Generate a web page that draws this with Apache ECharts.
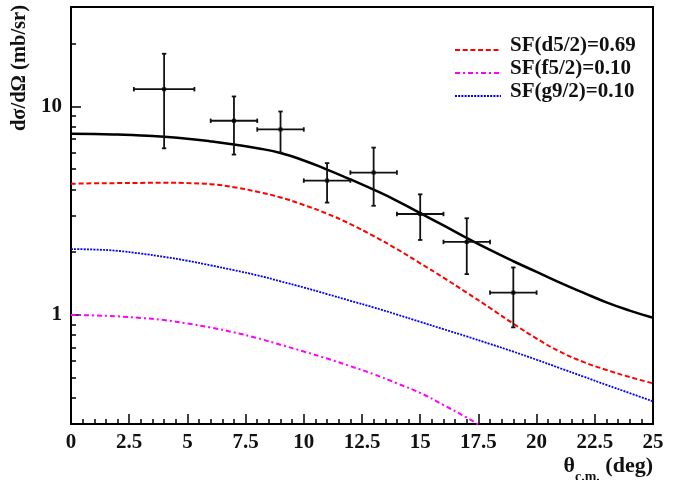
<!DOCTYPE html>
<html><head><meta charset="utf-8">
<script src="https://cdn.jsdelivr.net/npm/echarts@6/dist/echarts.min.js"></script>
<style>html,body{margin:0;padding:0;background:#fff}#c{width:687px;height:480px}</style>
</head><body><div id="c"></div>
<script>
// Measured data
const dataX = [4, 7, 9, 11, 13, 15, 17, 19];
const dataY = [12.1, 8.54, 7.76, 4.41, 4.82, 3.05, 2.24, 1.28];
const dataYLow = [6.3, 5.88, 6.0, 3.46, 3.34, 2.29, 1.57, 0.872];
const dataYHigh = [17.9, 11.17, 9.46, 5.35, 6.35, 3.79, 2.91, 1.69];
const dataXErr = [1.3, 1, 1, 1, 1, 1, 1, 1];

// Theory curves
const curveX = [0, 1, 2, 3, 4, 5, 6, 7, 8, 9, 10, 11, 12, 13, 14, 15, 16, 17, 18, 19, 20, 21, 22, 23, 24, 25];
const totalY = [7.40, 7.38, 7.33, 7.26, 7.15, 7.0, 6.8, 6.57, 6.31, 5.98, 5.51, 4.98, 4.47, 3.99, 3.53, 3.08, 2.69, 2.34, 2.05, 1.81, 1.61, 1.43, 1.28, 1.15, 1.05, 0.97];
const d52Y = [4.26, 4.28, 4.29, 4.30, 4.31, 4.29, 4.24, 4.10, 3.90, 3.66, 3.37, 3.06, 2.73, 2.39, 2.07, 1.77, 1.51, 1.28, 1.08, 0.908, 0.771, 0.667, 0.596, 0.545, 0.504, 0.47];
const g92Y = [2.07, 2.06, 2.03, 1.97, 1.90, 1.82, 1.73, 1.64, 1.55, 1.45, 1.355, 1.26, 1.17, 1.087, 1.005, 0.927, 0.855, 0.789, 0.726, 0.667, 0.61, 0.556, 0.507, 0.462, 0.422, 0.385];
const f52X = [0, 1, 2, 3, 4, 5, 6, 7, 8, 9, 10, 11, 12, 13, 14, 15, 16, 17, 17.5];
const f52Y = [1.00, 0.995, 0.985, 0.968, 0.945, 0.91, 0.87, 0.825, 0.775, 0.72, 0.668, 0.618, 0.568, 0.52, 0.47, 0.423, 0.37, 0.322, 0.298];

const seriesNames = ['SF(d5/2)=0.69', 'SF(f5/2)=0.10', 'SF(g9/2)=0.10'];
const yMajorTicks = [1, 10];
const yMinorTicks = [0.3, 0.4, 0.5, 0.6, 0.7, 0.8, 0.9, 2, 3, 4, 5, 6, 7, 8, 9, 20, 30];
const xTitle = 'θ';
const xTitleSub = 'c.m.';
const xTitleUnit = ' (deg)';
const yTitle = 'dσ/dΩ (mb/sr)';

const FONT = 'Liberation Serif';
const zip = (xs, ys) => xs.map((x, i) => [x, ys[i]]);

const chart = echarts.init(document.getElementById('c'));
const yBase = {
  type: 'log', logBase: 10, min: 0.3, max: 30,
  splitLine: { show: false }
};
chart.setOption({
  animation: false,
  backgroundColor: '#fff',
  grid: { left: 71, top: 7, width: 582, height: 417, show: true, borderColor: '#000', borderWidth: 2, containLabel: false, outerBoundsMode: 'none' },
  legend: {
    data: seriesNames,
    orient: 'vertical',
    left: 454, top: 35, padding: 0,
    itemWidth: 46, itemHeight: 10, itemGap: -7,
    itemStyle: { opacity: 0 },
    formatter: '{a|{name}}',
    textStyle: {
      fontFamily: FONT, fontWeight: 'bold', fontSize: 21, color: '#111',
      rich: { a: { fontFamily: FONT, fontWeight: 'bold', fontSize: 21, lineHeight: 21, color: '#111', padding: [0, 0, 9, 4] } }
    }
  },
  xAxis: {
    type: 'value', min: 0, max: 25, interval: 2.5,
    axisLine: { lineStyle: { color: '#000', width: 2 } },
    axisTick: { inside: true, length: 10, lineStyle: { color: '#000', width: 1.5 } },
    minorTick: { show: true, splitNumber: 5, length: 5, lineStyle: { color: '#000', width: 1.5 } },
    axisLabel: { margin: 8, fontFamily: FONT, fontWeight: 'bold', fontSize: 21, color: '#111' },
    splitLine: { show: false }
  },
  yAxis: [
    Object.assign({}, yBase, {
      position: 'left',
      axisLine: { show: true, lineStyle: { color: '#000', width: 2 } },
      axisTick: { inside: true, length: 10, customValues: yMajorTicks, lineStyle: { color: '#000', width: 1.5 } },
      axisLabel: { margin: 9, customValues: yMajorTicks, fontFamily: FONT, fontWeight: 'bold', fontSize: 21, color: '#111' }
    }),
    Object.assign({}, yBase, {
      position: 'left',
      axisLine: { show: false },
      axisTick: { inside: true, length: 5, customValues: yMinorTicks, lineStyle: { color: '#000', width: 1.5 } },
      axisLabel: { show: false }
    })
  ],
  graphic: [
    {
      type: 'text', x: 20, y: 5, rotation: Math.PI / 2,
      style: { text: yTitle, textAlign: 'right', textVerticalAlign: 'middle', fontFamily: FONT, fontWeight: 'bold', fontSize: 20.5, fill: '#111' }
    },
    {
      type: 'text', x: 653, y: 484,
      style: {
        text: '{m|' + xTitle + '}{s|' + xTitleSub + '}{m|' + xTitleUnit + '}',
        textAlign: 'right', textVerticalAlign: 'bottom', fill: '#111',
        rich: {
          m: { fontFamily: FONT, fontWeight: 'bold', fontSize: 22, lineHeight: 22, padding: [0, 0, 7, 0], verticalAlign: 'bottom', fill: '#111' },
          s: { fontFamily: FONT, fontWeight: 'bold', fontSize: 14, lineHeight: 14, verticalAlign: 'bottom', fill: '#111' }
        }
      }
    }
  ],
  series: [
    {
      name: 'total', type: 'line', data: zip(curveX, totalY), smooth: true, symbol: 'none',
      lineStyle: { color: '#000', width: 2.5 }, z: 3
    },
    {
      name: seriesNames[0], type: 'line', data: zip(curveX, d52Y), smooth: true, symbol: 'none',
      itemStyle: { color: '#ff0000' },
      lineStyle: { color: '#ff0000', width: 2, type: [5, 2.7] }
    },
    {
      name: seriesNames[1], type: 'line', data: zip(f52X, f52Y), smooth: true, symbol: 'none',
      itemStyle: { color: '#ff00ff' },
      lineStyle: { color: '#ff00ff', width: 2, type: [5, 3, 2, 3] }
    },
    {
      name: seriesNames[2], type: 'line', data: zip(curveX, g92Y), smooth: true, symbol: 'none',
      itemStyle: { color: '#0000ff' },
      lineStyle: { color: '#0000ff', width: 1.8, type: [2, 1.2] }
    },
    {
      name: 'errors', type: 'custom',
      data: dataX.map((x, i) => [x, dataY[i], dataXErr[i], dataYLow[i], dataYHigh[i]]),
      encode: { x: 0, y: 1 }, z: 4,
      renderItem: function (params, api) {
        const x = api.value(0), y = api.value(1), xe = api.value(2), lo = api.value(3), hi = api.value(4);
        const pL = api.coord([x - xe, y]), pR = api.coord([x + xe, y]);
        const pT = api.coord([x, hi]), pB = api.coord([x, lo]);
        const c = 2.2;
        const st = { stroke: '#111', lineWidth: 1.8 };
        const ln = (x1, y1, x2, y2) => ({ type: 'line', shape: { x1, y1, x2, y2 }, style: st });
        return {
          type: 'group', children: [
            ln(pL[0], pL[1], pR[0], pR[1]),
            ln(pT[0], pT[1], pB[0], pB[1]),
            ln(pL[0], pL[1] - c, pL[0], pL[1] + c),
            ln(pR[0], pR[1] - c, pR[0], pR[1] + c),
            ln(pT[0] - c, pT[1], pT[0] + c, pT[1]),
            ln(pB[0] - c, pB[1], pB[0] + c, pB[1])
          ]
        };
      }
    },
    {
      name: 'data', type: 'scatter', data: zip(dataX, dataY), symbol: 'rect', symbolSize: 4,
      itemStyle: { color: '#000' }, z: 5
    }
  ]
});
</script>
</body></html>
